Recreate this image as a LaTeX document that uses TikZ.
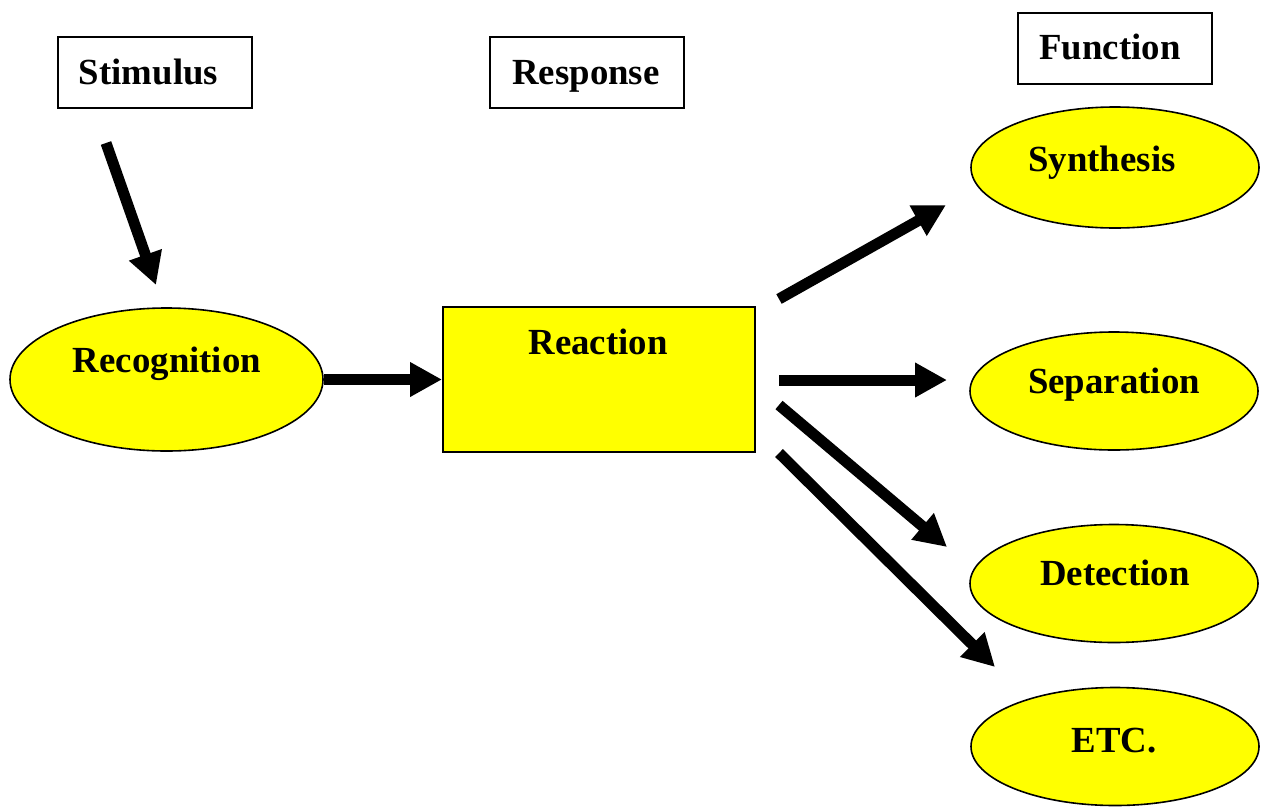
\documentclass[tikz,border=0pt]{standalone}
\usepackage{fontspec}
\setmainfont{Liberation Serif}
\usetikzlibrary{shapes.geometric,arrows.meta}
\definecolor{yel}{RGB}{255,255,0}
\begin{document}
\begin{tikzpicture}[x=0.75pt,y=-0.75pt,
  lbl/.style={font=\fontsize{27.6}{33}\selectfont\bfseries, inner sep=0pt, anchor=base},
  tagbox/.style={draw, line width=1.5pt, fill=white, inner sep=0pt, minimum width=145.5pt, minimum height=53.25pt},
  oval/.style={ellipse, draw, line width=1.2pt, fill=yel, inner sep=0pt},
  bigarrow/.style={line width=8.25pt, -{Triangle[length=24pt,width=24.5pt]}}]
\useasboundingbox (0,0) rectangle (1263,807);
% header boxes
\node[tagbox] (stimbox) at (155,72.5) {};
\node[tagbox] (respbox) at (587,72.5) {};
\node[tagbox] (funcbox) at (1115,48.5) {};
\node[lbl] (stimtxt) at (148.5,84) {Stimulus};
\node[lbl] (resptxt) at (586,84) {Response};
\node[lbl] (functxt) at (1110,59) {Function};
% shapes
\node[oval, minimum width=234.75pt, minimum height=107.25pt] (rec) at (166.5,379.5) {};
\node[draw, line width=1.5pt, fill=yel, minimum width=234pt, minimum height=108.75pt, inner sep=0pt] (reac) at (599,379.5) {};
\node[oval, minimum width=216pt, minimum height=90.75pt] (syn) at (1115,167.5) {};
\node[oval, minimum width=216pt, minimum height=88.5pt] (sep) at (1114,391) {};
\node[oval, minimum width=216pt, minimum height=88.5pt] (det) at (1114,583.5) {};
\node[oval, minimum width=216pt, minimum height=88.5pt] (etc) at (1115,746.5) {};
\node[lbl] (rectxt) at (167,372) {Recognition};
\node[lbl] (reactxt) at (598,354) {Reaction};
\node[lbl] (syntxt) at (1102,171) {Synthesis};
\node[lbl] (septxt) at (1114,393) {Separation};
\node[lbl] (dettxt) at (1115,585) {Detection};
\node[lbl] (etctxt) at (1114,752) {ETC.};
% arrow endpoints
\coordinate (s1) at (106,143); \coordinate (s2) at (156,285);
\coordinate (a1t) at (779,299); \coordinate (a1h) at (946,205);
\coordinate (a2t) at (779,380); \coordinate (a2h) at (947,380);
\coordinate (a3t) at (779,405); \coordinate (a3h) at (947,547);
\coordinate (a4t) at (779,453); \coordinate (a4h) at (995,667);
\draw[bigarrow] (s1) -- (s2);
\draw[bigarrow] (rec.east) -- (reac.west);
\draw[bigarrow] (a1t) -- (a1h);
\draw[bigarrow] (a2t) -- (a2h);
\draw[bigarrow] (a3t) -- (a3h);
\draw[bigarrow] (a4t) -- (a4h);
\end{tikzpicture}
\end{document}
